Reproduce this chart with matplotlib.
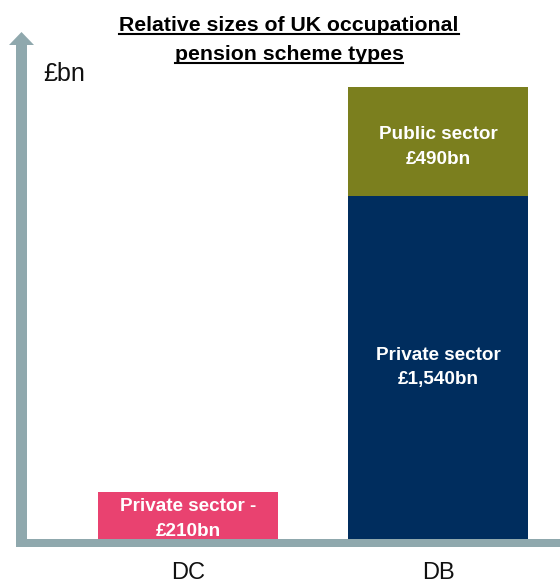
import matplotlib
matplotlib.use("Agg")
import matplotlib.pyplot as plt
from matplotlib.patches import Rectangle, Polygon
from matplotlib.lines import Line2D

plt.rcParams['font.family'] = ['Liberation Sans', 'DejaVu Sans']

# ---- data ----
categories = ["DC", "DB"]
private_values = [210, 1540]
public_values = [0, 490]
private_labels = ["Private sector -\n£210bn", "Private sector\n£1,540bn"]
public_labels = ["", "Public sector\n£490bn"]
title_lines = ["Relative sizes of UK occupational", "pension scheme types"]
unit_label = "£bn"

# ---- colours ----
private_colors = ["#e94270", "#002d5e"]
public_color = "#7b7f1e"
axis_color = "#8fa8ad"

W, H = 560, 582
fig = plt.figure(figsize=(W / 100, H / 100), dpi=100)

# main axes (pixel box: x 27..560, y 87..539)
left, top, right, bottom = 27, 87, 560, 539
ax = fig.add_axes([left / W, 1 - bottom / H, (right - left) / W, (bottom - top) / H])
xs = list(range(len(categories)))
ax.bar(xs, private_values, width=0.72, color=private_colors, zorder=2)
ax.bar(xs, public_values, width=0.72, bottom=private_values, color=public_color, zorder=2)
total = max(p + q for p, q in zip(private_values, public_values))
ax.set_ylim(0, total)
ax.set_xlim(-0.644, 1.488)
private_offsets = [-2.5, 0]   # small vertical nudges (points)
for i in xs:
    ax.annotate(private_labels[i], (i, private_values[i] / 2),
                xytext=(0, private_offsets[i]), textcoords="offset points",
                ha="center", va="center", color="white", fontsize=13.6,
                fontweight="bold", linespacing=1.6)
    if public_values[i] > 0:
        ax.annotate(public_labels[i], (i, private_values[i] + public_values[i] / 2),
                    xytext=(0, -4), textcoords="offset points",
                    ha="center", va="center", color="white", fontsize=13.6,
                    fontweight="bold", linespacing=1.6)
ax.set_xticks(xs, categories, fontsize=17, color="#111111")
ax.tick_params(axis="x", length=0, pad=16.5)
ax.set_yticks([])
for s in ax.spines.values():
    s.set_visible(False)

# overlay for axis decoration (pixel coordinates)
ov = fig.add_axes([0, 0, 1, 1], zorder=5)
ov.set_xlim(0, W)
ov.set_ylim(H, 0)
ov.axis("off")
ov.patch.set_alpha(0)
ov.add_patch(Rectangle((16, 44), 11, 503, color=axis_color, lw=0))
ov.add_patch(Polygon([(9, 45), (34, 45), (21.5, 32)], closed=True, color=axis_color, lw=0))
ov.add_patch(Rectangle((16, 539), 544, 8, color=axis_color, lw=0))

ov.text(43, 81, unit_label, fontsize=18, va="baseline", ha="left", color="#111111")

# title with underline
baselines = [31, 60]
fig.canvas.draw()
renderer = fig.canvas.get_renderer()
for line, yb in zip(title_lines, baselines):
    t = ov.text(289, yb, line, fontsize=15.3, fontweight="bold", ha="center",
                va="baseline", color="black")
    bb = t.get_window_extent(renderer)
    x0, x1 = bb.x0, bb.x1
    ov.add_line(Line2D([x0, x1], [yb + 3, yb + 3], color="black", lw=1.5))

fig.savefig("out.png", dpi=100)
